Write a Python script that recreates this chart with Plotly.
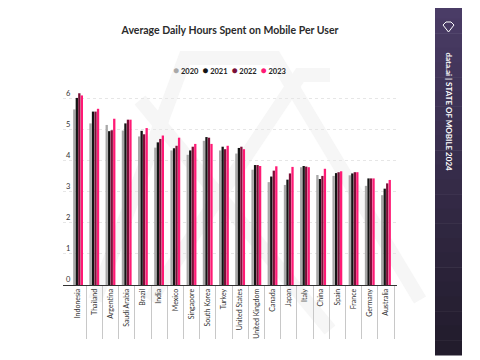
import plotly.graph_objects as go

countries = ["Indonesia", "Thailand", "Argentina", "Saudi Arabia", "Brazil", "India",
             "Mexico", "Singapore", "South Korea", "Turkey", "United States",
             "United Kingdom", "Canada", "Japan", "Italy", "China", "Spain",
             "France", "Germany", "Australia"]
years = ["2020", "2021", "2022", "2023"]
v2020 = [5.65, 5.2, 5.15, 4.97, 4.78, 4.42, 4.33, 4.19, 4.64, 4.33, 4.23,
         3.71, 3.31, 3.22, 3.79, 3.54, 3.51, 3.53, 3.19, 2.89]
v2021 = [6.02, 5.58, 4.95, 5.2, 4.96, 4.59, 4.4, 4.33, 4.76, 4.45, 4.41,
         3.86, 3.49, 3.39, 3.83, 3.41, 3.6, 3.59, 3.43, 3.1]
v2022 = [6.17, 5.58, 4.98, 5.32, 4.85, 4.7, 4.48, 4.45, 4.74, 4.37, 4.45,
         3.86, 3.68, 3.59, 3.81, 3.51, 3.63, 3.63, 3.43, 3.27]
v2023 = [6.1, 5.67, 5.35, 5.32, 5.05, 4.81, 4.74, 4.54, 4.54, 4.48, 4.37,
         3.83, 3.82, 3.8, 3.79, 3.74, 3.66, 3.63, 3.43, 3.38]
series = [v2020, v2021, v2022, v2023]
colors = ["#a8a8a8", "#141414", "#7a1038", "#ff1a75"]
y_ticks = [0, 1, 2, 3, 4, 5, 6]

# the page has an 8px body margin; design in screen pixels and shift
OFF = 8
W, H = 480 - OFF, 360 - OFF
L, R, T, B = 63, 397, 83, 285  # plot area in screen pixels


def px(x):
    return (x - L) / (R - L)


def py(y):
    return (B - y) / (B - T)


fig = go.Figure()
for name, vals, col in zip(years, series, colors):
    fig.add_trace(go.Bar(x=countries, y=vals, name=name, showlegend=False,
                         marker=dict(color=col, line=dict(width=0))))

shapes = []
# faint watermark
wm = "#f6f6f6"
wm_paths = [
    [(95, 300), (185, 58), (275, 58), (420, 300)],
    [(150, 300), (300, 75), (330, 75)],
    [(140, 100), (330, 330)],
]
for pts in wm_paths:
    d = "M " + " L ".join(f"{px(a):.4f},{py(b):.4f}" for a, b in pts)
    shapes.append(dict(type="path", xref="paper", yref="paper", path=d,
                       line=dict(color=wm, width=14), layer="below"))

# side banner with gradient bands
top_c = (74, 60, 102)
bot_c = (34, 28, 44)
y_top, y_bot = 4, 355
n = 24
for i in range(n):
    t = i / (n - 1)
    c = tuple(int(top_c[k] + (bot_c[k] - top_c[k]) * t) for k in range(3))
    ya = y_top + (y_bot - y_top) * i / n
    yb = y_top + (y_bot - y_top) * (i + 1) / n + 0.5
    shapes.append(dict(type="rect", xref="paper", yref="paper",
                       x0=px(435), x1=px(462), y0=py(yb), y1=py(ya),
                       fillcolor=f"rgb{c}", line=dict(width=0), layer="above"))
# diamond icon
dpts = [(443, 25), (446, 22), (451, 22), (454, 25), (448.5, 32)]
d = "M " + " L ".join(f"{px(a):.4f},{py(b):.4f}" for a, b in dpts) + " Z"
shapes.append(dict(type="path", xref="paper", yref="paper", path=d,
                   line=dict(color="white", width=1), layer="above"))

legend_text = "&nbsp;&nbsp;".join(
    f"<span style='color:{c};font-size:10px'>●</span> <b>{y}</b>"
    for y, c in zip(years, colors))

fig.update_layout(
    width=W, height=H,
    margin=dict(l=L - OFF, r=W - (R - OFF), t=T - OFF, b=H - (B - OFF),
                autoexpand=False),
    paper_bgcolor="white", plot_bgcolor="rgba(0,0,0,0)",
    barmode="group", bargap=0.38, bargroupgap=0.08,
    font=dict(family="Lato", color="#333333"),
    title=dict(text="<b>Average Daily Hours Spent on Mobile Per User</b>",
               x=0.5, xref="paper", xanchor="center",
               y=1 - (30 - OFF) / H, yanchor="middle",
               font=dict(size=10.5, color="#2b2b2b", family="Lato")),
    showlegend=False,
    shapes=shapes,
    annotations=[
        dict(text="<b>data.ai | STATE OF MOBILE 2024</b>",
             xref="paper", yref="paper", x=px(448.5), y=py(112),
             xanchor="center", yanchor="middle",
             textangle=90, showarrow=False,
             font=dict(size=8, color="white", family="Lato")),
        dict(text=legend_text, xref="paper", yref="paper",
             x=px(229), y=py(70), xanchor="center", yanchor="middle",
             showarrow=False, font=dict(size=7.5, color="#222222", family="Lato")),
    ],
)
fig.update_xaxes(type="category", range=[-0.93, 19.68], automargin=False,
                 tickson="boundaries", ticks="outside", ticklen=53,
                 tickcolor="#c8c8c8", tickwidth=1, showgrid=False,
                 tickangle=-90, tickfont=dict(size=7, color="#333333"),
                 showline=True, linecolor="#333333", linewidth=1,
                 fixedrange=True)
fig.update_yaxes(range=[0, 6.5], tickvals=y_ticks, automargin=False,
                 ticklabelposition="inside top",
                 tickfont=dict(size=7.5, color="#333333"),
                 showgrid=True, gridcolor="#e6e6e6", griddash="dot",
                 gridwidth=1, zeroline=False, showline=False)

fig.write_html("out.html")
